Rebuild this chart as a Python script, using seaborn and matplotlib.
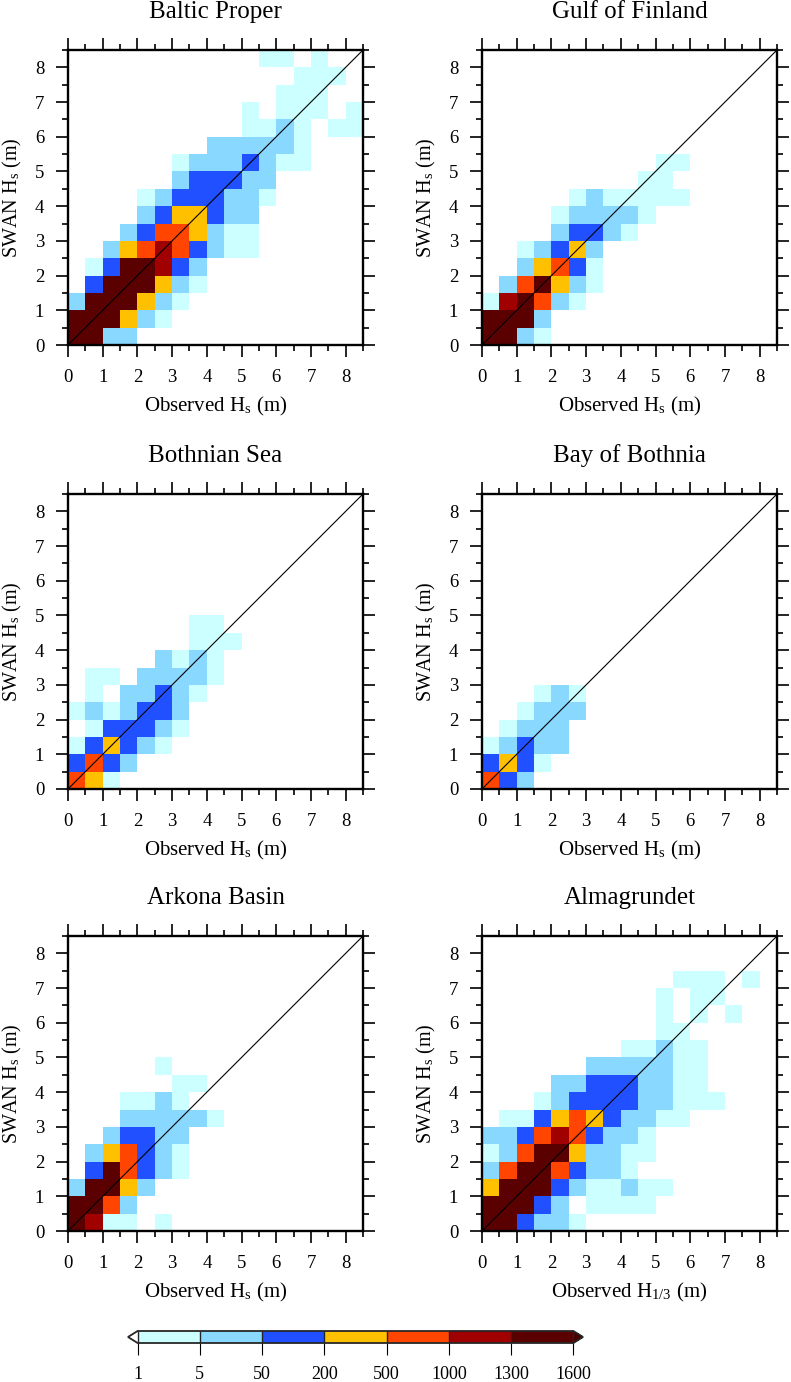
import numpy as np
import pandas as pd
import matplotlib
matplotlib.use('Agg')
import matplotlib.pyplot as plt
import seaborn as sns
from matplotlib.colors import ListedColormap, BoundaryNorm
from matplotlib.ticker import MultipleLocator

sns.set_style('ticks')
plt.rcParams['font.family'] = ['Liberation Serif', 'DejaVu Serif']
plt.rcParams['mathtext.fontset'] = 'stix'
plt.rcParams['text.color'] = 'black'

# panel titles and x labels
regions = ['Baltic Proper', 'Gulf of Finland', 'Bothnian Sea',
           'Bay of Bothnia', 'Arkona Basin', 'Almagrundet']
xlabels = [r'Observed H$_\mathregular{s}$ (m)'] * 5 + [r'Observed H$_\mathregular{1/3}$ (m)']
ylabel = r'SWAN H$_\mathregular{s}$ (m)'

# count classes (colour bar)
bounds = [1, 5, 50, 200, 500, 1000, 1300, 1600]
colors = ['#ccffff', '#88d8ff', '#2050ff', '#ffc000', '#ff4500', '#a00000', '#5a0000']
# representative count for each class code
class_counts = {'C': 3, 'L': 20, 'B': 100, 'Y': 300, 'O': 700, 'R': 1100, 'D': 1450}

# 0.5 m bins, rows listed from top (8-8.5 m) to bottom (0-0.5 m), columns from 0 m
baltic = [
    '...........CC.C..',
    '.............CCC.',
    '............CCC..',
    '..........C.CCC.C',
    '..........CCLC.CC',
    '........LLLLLC...',
    '......CLLLBLCC...',
    '......LBBBLL.....',
    '....CLBBBLLC.....',
    '....LBYYBLL......',
    '...LBOOYLCC......',
    '..LYOROBLCC......',
    '.CBDDRBL.........',
    '.BDDDYLC.........',
    'LDDDYLC..........',
    'DDDYLC...........',
    'DDLL.............',
]
gulf = [
    '', '', '', '', '', '',
    '..........CC',
    '.........CC',
    '.....CLCCCCC',
    '....CLLLLC',
    '....LBBLC',
    '..CLBYL',
    '..LYOBC',
    '.LODYLC',
    'CRDOLC',
    'DDDL',
    'DDLC',
]
bothnian_sea = [
    '', '', '', '', '', '', '',
    '.......CC',
    '.......CCC',
    '.....LCLC',
    '.CC.LLLLC',
    '.C.LLBLC',
    'CLCLBBL',
    '.CBBBLC',
    'CBYBLC',
    'BOBL',
    'OYC',
]
bay_bothnia = [
    '', '', '', '', '', '', '', '', '', '', '',
    '...CLC',
    '..CLLL',
    '.CLLL',
    'CLBLL',
    'BYBC',
    'OBL',
]
arkona = [
    '', '', '', '', '', '', '',
    '.....C',
    '......CC',
    '...CCLC',
    '...LLLLLC',
    '..LBBLL',
    '.LYOBLC',
    '.BDOBLC',
    'LDDYL',
    'DDOL',
    'DRCC.C',
]
almagrundet = [
    '', '',
    '...........CCC.C',
    '..........C.CC',
    '..........C.C.C',
    '..........CC',
    '........CCLCC',
    '......LLLLLCC',
    '....LLBBBLLCC',
    '...CLBBBBLLCCC',
    '.CCBYOYBLLCC',
    'LLBOROBLLC',
    'CLODDYLLCC',
    'LODDOBLLC',
    'YDDDBLCCLCC',
    'DDDBL.CCCC',
    'DDBLLC',
]
grids = [baltic, gulf, bothnian_sea, bay_bothnia, arkona, almagrundet]

hs_step = 0.5
hs_max = 8.5
nbin = 17


def grid_to_frame(rows):
    recs = []
    for k, row in enumerate(rows):
        row = row.ljust(nbin, '.')
        for i, ch in enumerate(row):
            if ch != '.':
                recs.append(((i + 0.5) * hs_step, hs_max - (k + 0.5) * hs_step, class_counts[ch]))
    return pd.DataFrame(recs, columns=['obs', 'swan', 'n'])


cmap = ListedColormap(colors)
cmap.set_under('white')
cmap.set_over('#4a0000')
norm = BoundaryNorm(bounds, cmap.N)

W, H = 791, 1382
fig = plt.figure(figsize=(W / 100, H / 100), dpi=100)
col_left = [68, 482]
row_top = [50, 494, 936]
size = 295

for p, (name, rows) in enumerate(zip(regions, grids)):
    r, c = divmod(p, 2)
    ax = fig.add_axes([col_left[c] / W, 1 - (row_top[r] + size) / H, size / W, size / H])
    df = grid_to_frame(rows)
    sns.histplot(data=df, x='obs', y='swan', weights='n', binwidth=hs_step,
                 binrange=(0, hs_max), cmap=cmap, ax=ax, cbar=False)
    mesh = ax.collections[0]
    mesh.set_norm(norm)
    mesh.set_cmap(cmap)
    ax.plot([0, hs_max], [0, hs_max], color='black', lw=0.8)
    ax.set_xlim(0, hs_max)
    ax.set_ylim(0, hs_max)
    ax.set_xlabel('')
    ax.set_ylabel('')
    for a in (ax.xaxis, ax.yaxis):
        a.set_major_locator(MultipleLocator(1))
        a.set_minor_locator(MultipleLocator(0.5))
    ax.tick_params(which='both', direction='out', top=True, right=True,
                   labelsize=13.5, width=1.2, color='black', labelcolor='black')
    ax.tick_params(which='major', length=8.6, pad=8.5)
    ax.tick_params(which='minor', length=4.5)
    for s in ax.spines.values():
        s.set_linewidth(1.7)
        s.set_color('black')
    ax.text(0.5, 1.11, name, transform=ax.transAxes, ha='center', va='baseline', fontsize=18)
    ax.text(0.5, -0.227, xlabels[p], transform=ax.transAxes, ha='center', va='baseline', fontsize=15)
    ax.text(-0.188, 0.5, ylabel, transform=ax.transAxes, ha='center', va='center',
            rotation=90, fontsize=14.5)

# colour bar
cax = fig.add_axes([128 / W, 1 - 1343 / H, 455 / W, 12 / H])
sm = matplotlib.cm.ScalarMappable(norm=norm, cmap=cmap)
cb = fig.colorbar(sm, cax=cax, orientation='horizontal', extend='both', spacing='uniform',
                  drawedges=True, extendfrac=0.022, ticks=bounds)
cb.set_ticklabels([str(b) for b in bounds])
cb.outline.set_linewidth(1.3)
cb.dividers.set_linewidth(1.0)
cb.ax.tick_params(direction='out', length=8.6, width=0.8, labelsize=13, pad=8,
                  color='black', labelcolor='black')

fig.savefig('out.png', dpi=100)
